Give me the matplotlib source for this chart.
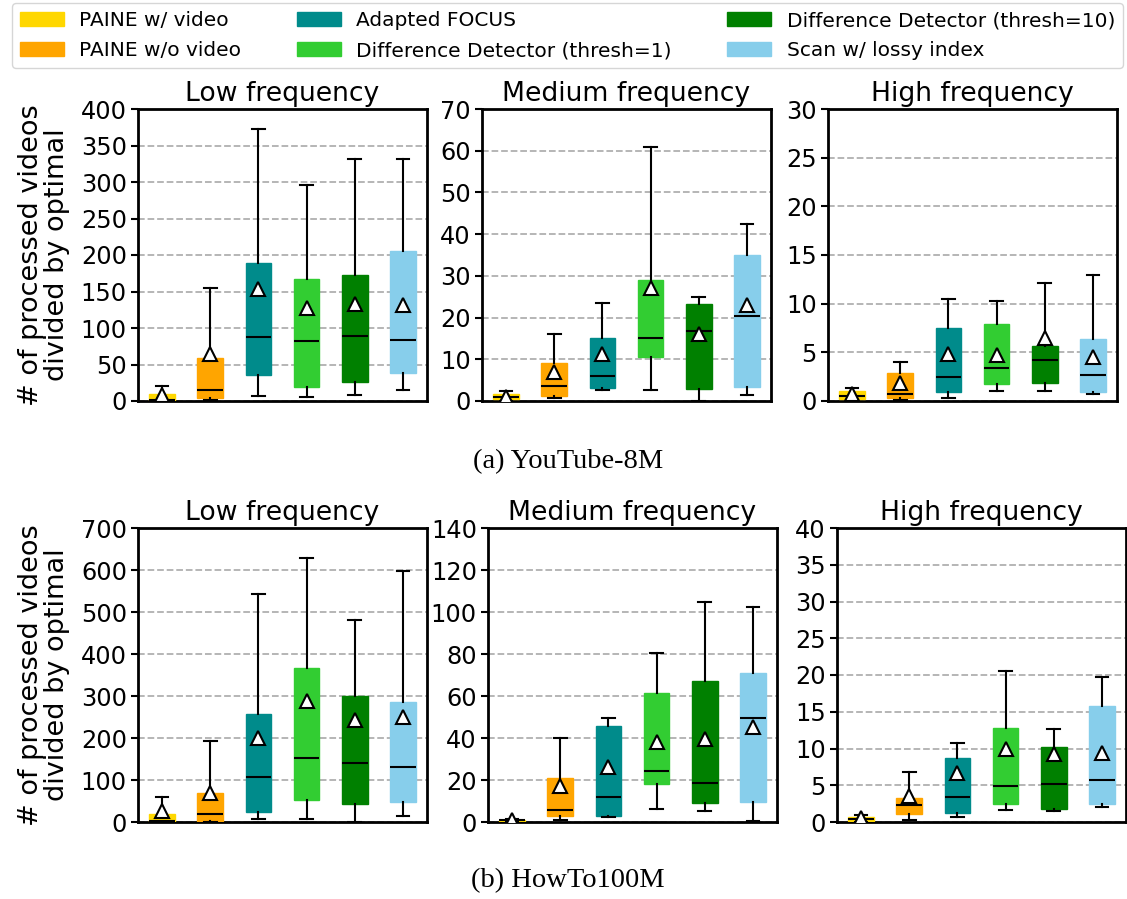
import matplotlib
matplotlib.use('Agg')
import matplotlib.pyplot as plt
from matplotlib.patches import Patch

# methods and colours
methods = ['PAINE w/ video', 'PAINE w/o video', 'Adapted FOCUS',
           'Difference Detector (thresh=1)', 'Difference Detector (thresh=10)',
           'Scan w/ lossy index']
colors = ['#FFD700', '#FFA500', '#008B8B', '#32CD32', '#008000', '#87CEEB']

panel_titles = ['Low frequency', 'Medium frequency', 'High frequency']

# box statistics per method: (whislo, q1, median, q3, whishi, mean)
yt_low = [(0, 0.5, 1.5, 9, 21, 8),
          (2, 4.5, 14.6, 59, 155, 65),
          (7, 35, 87, 189, 372, 153),
          (5.5, 19, 82, 167, 296, 127),
          (8, 25.6, 89, 172, 331, 133.5),
          (15, 39, 84, 206, 331, 132)]
yt_med = [(0.1, 0.4, 1.0, 1.6, 2.4, 1.0),
          (0.7, 1.1, 3.5, 9.2, 16, 7),
          (2.7, 3.0, 6.1, 15.1, 23.5, 11.2),
          (2.6, 10.6, 15.0, 29.1, 61, 27.2),
          (0, 2.8, 16.7, 23.3, 24.9, 16.0),
          (1.4, 3.3, 20.3, 35.1, 42.4, 23.1)]
yt_high = [(0.1, 0.17, 0.55, 1.0, 1.3, 0.7),
           (0.1, 0.3, 0.7, 2.85, 4.0, 1.8),
           (0.35, 0.9, 2.5, 7.5, 10.5, 4.8),
           (1.0, 1.7, 3.35, 7.95, 10.3, 4.75),
           (1.07, 1.8, 4.2, 5.65, 12.1, 6.5),
           (0.72, 0.93, 2.65, 6.4, 12.9, 4.5)]
ht_low = [(0, 1, 2.4, 18, 60, 26),
          (0, 1.6, 19, 68, 193, 69),
          (7, 25, 106, 258, 543, 201),
          (7, 52, 153, 366, 629, 288),
          (0, 44, 140, 299, 480, 243),
          (13.5, 47, 130, 285, 598, 249)]
ht_med = [(0, 0.3, 0.8, 1.1, 1.4, 1.1),
          (0.8, 2.8, 5.5, 21, 40, 17),
          (2.2, 2.85, 11.7, 45.6, 49.7, 26),
          (6, 18.2, 24.1, 61.3, 80.3, 38.3),
          (5.2, 9.0, 18.7, 67.3, 104.8, 39.6),
          (0.6, 9.5, 49.7, 71, 102.5, 45.1)]
ht_high = [(0.05, 0.18, 0.45, 0.73, 0.95, 0.5),
           (0.25, 1.1, 2.3, 3.2, 6.8, 3.5),
           (0.65, 1.2, 3.45, 8.75, 10.7, 6.7),
           (1.7, 2.5, 4.9, 12.8, 20.6, 10.0),
           (1.45, 1.8, 5.15, 10.2, 12.7, 9.2),
           (2.1, 2.5, 5.75, 15.85, 19.7, 9.4)]

yt_ylims = [400, 70, 30]
yt_steps = [50, 10, 5]
ht_ylims = [700, 140, 40]
ht_steps = [100, 20, 5]

fig = plt.figure(figsize=(11.27, 8.99), dpi=100)

W, H = 1127, 899
rows = [
    dict(data=[yt_low, yt_med, yt_high], ylims=yt_ylims, steps=yt_steps,
         lefts=[138, 482, 828], width=289, top=109, bottom=401),
    dict(data=[ht_low, ht_med, ht_high], ylims=ht_ylims, steps=ht_steps,
         lefts=[138, 488, 837], width=289, top=528, bottom=822),
]

for row in rows:
    for i in range(3):
        ax = fig.add_axes([row['lefts'][i] / W, (H - row['bottom']) / H,
                           row['width'] / W, (row['bottom'] - row['top']) / H])
        stats = []
        for s in row['data'][i]:
            stats.append(dict(whislo=s[0], q1=s[1], med=s[2], q3=s[3],
                              whishi=s[4], mean=s[5], fliers=[]))
        bp = ax.bxp(stats, positions=range(1, 7), widths=0.53, patch_artist=True,
                    showmeans=True, showfliers=False,
                    medianprops=dict(color='black', lw=1.5),
                    whiskerprops=dict(color='black', lw=1.5),
                    capprops=dict(color='black', lw=1.5),
                    meanprops=dict(marker='^', markerfacecolor='white',
                                   markeredgecolor='black', markersize=10,
                                   markeredgewidth=1.5),
                    zorder=3)
        for patch, c in zip(bp['boxes'], colors):
            patch.set_facecolor(c)
            patch.set_edgecolor(c)
        ymax = row['ylims'][i]
        ax.set_ylim(0, ymax)
        ax.set_xlim(0.5, 6.5)
        ax.set_yticks(range(0, ymax + 1, row['steps'][i]))
        ax.set_xticks([])
        ax.yaxis.grid(True, ls='--', color='#b0b0b0', lw=1.3, zorder=0)
        ax.set_axisbelow(True)
        for sp in ax.spines.values():
            sp.set_linewidth(2)
        ax.tick_params(axis='y', labelsize=17.3, width=1.5, length=5, pad=3)
        ax.set_title(panel_titles[i], fontsize=19.2, pad=6)
        if i == 0:
            ax.set_ylabel('# of processed videos\ndivided by optimal',
                          fontsize=19.5, labelpad=8, linespacing=1.0)

handles = [Patch(facecolor=c, edgecolor=c) for c in colors]
fig.legend(handles, methods, loc='upper left',
           bbox_to_anchor=(12 / W, 1 - 71 / H, 1111 / W, 68 / H), mode='expand',
           borderaxespad=0, ncol=3, fontsize=14.5, handlelength=2.2,
           handleheight=0.75, handletextpad=0.75, labelspacing=0.55,
           borderpad=0.4, frameon=True, fancybox=True, edgecolor='#cccccc')

fig.text(568 / W, 1 - 462 / H, '(a) YouTube-8M', ha='center', va='center',
         family='Liberation Serif', fontsize=20.5)
fig.text(568 / W, 1 - 881 / H, '(b) HowTo100M', ha='center', va='center',
         family='Liberation Serif', fontsize=20.5)

fig.savefig('out.png', dpi=100)
